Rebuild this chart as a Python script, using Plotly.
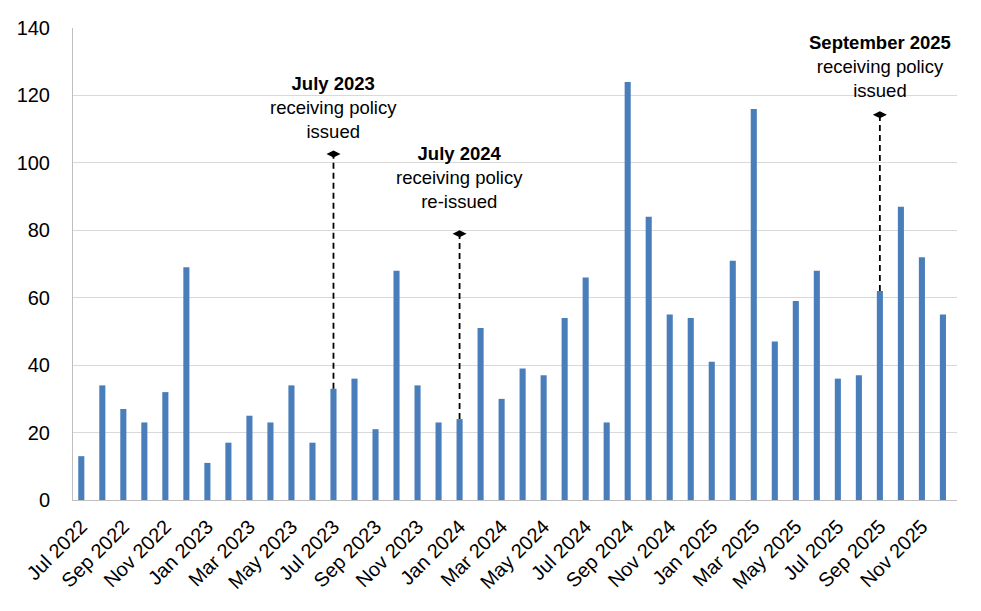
import plotly.graph_objects as go

months = ["Jul 2022", "Aug 2022", "Sep 2022", "Oct 2022", "Nov 2022", "Dec 2022",
          "Jan 2023", "Feb 2023", "Mar 2023", "Apr 2023", "May 2023", "Jun 2023",
          "Jul 2023", "Aug 2023", "Sep 2023", "Oct 2023", "Nov 2023", "Dec 2023",
          "Jan 2024", "Feb 2024", "Mar 2024", "Apr 2024", "May 2024", "Jun 2024",
          "Jul 2024", "Aug 2024", "Sep 2024", "Oct 2024", "Nov 2024", "Dec 2024",
          "Jan 2025", "Feb 2025", "Mar 2025", "Apr 2025", "May 2025", "Jun 2025",
          "Jul 2025", "Aug 2025", "Sep 2025", "Oct 2025", "Nov 2025", "Dec 2025"]
values = [13, 34, 27, 23, 32, 69,
          11, 17, 25, 23, 34, 17,
          33, 36, 21, 68, 34, 23,
          24, 51, 30, 39, 37, 54,
          66, 23, 124, 84, 55, 54,
          41, 71, 116, 47, 59, 68,
          36, 37, 62, 87, 72, 55]
tick_labels = months[::2]

event_months = ["Jul 2023", "Jan 2024", "Sep 2025"]
event_titles = ["July 2023", "July 2024", "September 2025"]
event_texts = ["receiving policy<br>issued", "receiving policy<br>re-issued", "receiving policy<br>issued"]
event_marker_levels = [102.6, 79.0, 114.3]
event_text_levels = [116.3, 95.8, 128.7]

FONT = "Liberation Sans, Arial, sans-serif"
BAR = "#4A7EBB"

fig = go.Figure()
fig.add_trace(go.Bar(x=months, y=values, marker=dict(color=BAR, line=dict(width=0)),
                     showlegend=False, hoverinfo="x+y"))

for m, top in zip(event_months, event_marker_levels):
    base = values[months.index(m)]
    fig.add_trace(go.Scatter(x=[m, m], y=[base, top], mode="lines",
                             line=dict(color="black", width=1.8, dash="6px,4px"),
                             showlegend=False, hoverinfo="skip"))
    fig.add_trace(go.Scatter(x=[m], y=[top], mode="markers",
                             marker=dict(symbol="diamond-wide", size=10, color="black"),
                             showlegend=False, hoverinfo="skip"))

for m, t, txt, lvl in zip(event_months, event_titles, event_texts, event_text_levels):
    fig.add_annotation(x=m, y=lvl, text=f"<b>{t}</b><br>{txt}", showarrow=False,
                       xanchor="center", yanchor="middle", align="center",
                       font=dict(family=FONT, size=18.5, color="black"))

fig.update_layout(
    width=981, height=611,
    margin=dict(l=73, r=24, t=28, b=111),
    paper_bgcolor="white", plot_bgcolor="white",
    bargap=0.71,
    font=dict(family=FONT, size=18, color="black"),
    xaxis=dict(type="category", categoryorder="array", categoryarray=months,
               range=[-0.395, 41.67],
               tickmode="array", tickvals=tick_labels, ticktext=tick_labels,
               tickangle=-45, showgrid=False, showline=True, linecolor="#BFBFBF",
               linewidth=1, ticks="", ticklabelstandoff=6,
               tickfont=dict(family=FONT, size=20, color="black")),
    yaxis=dict(range=[0, 140], dtick=20, showgrid=True, gridcolor="#D9D9D9", gridwidth=1,
               showline=True, linecolor="#BFBFBF", linewidth=1, zeroline=False, ticks="",
               ticklabelstandoff=18, tickfont=dict(family=FONT, size=20, color="black")),
)

fig.write_html("out.html")
